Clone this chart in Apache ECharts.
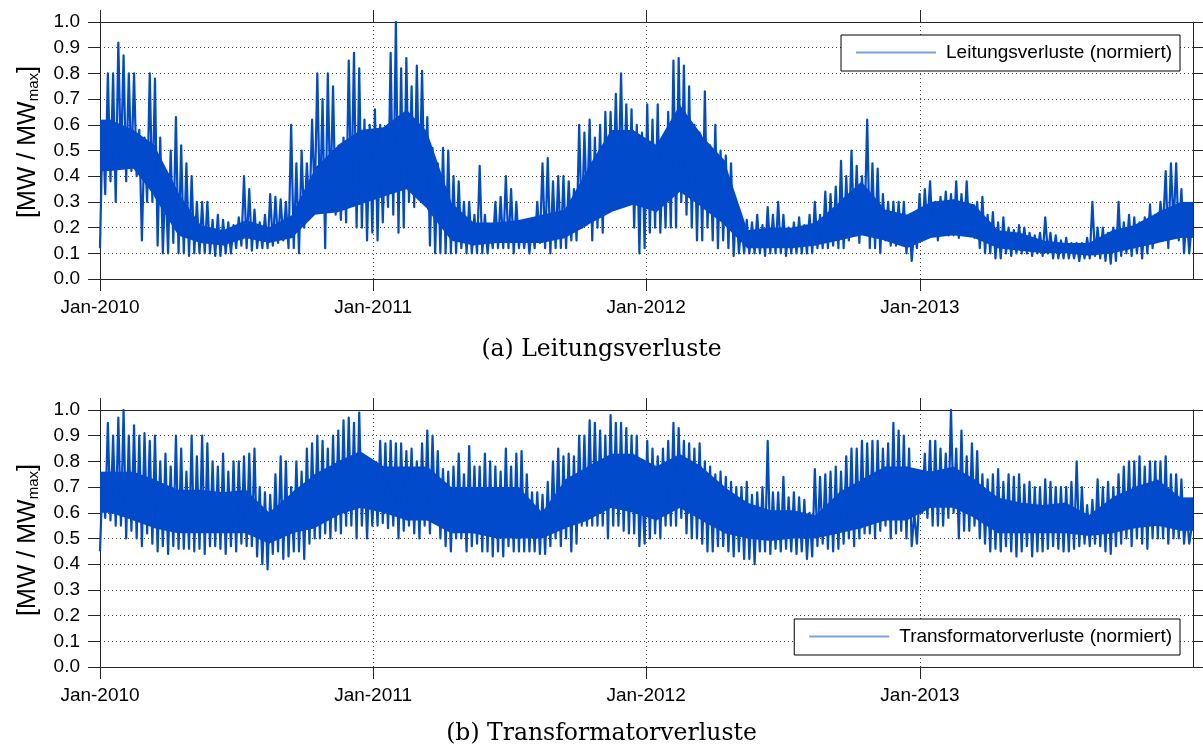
<!DOCTYPE html>
<html>
<head>
<meta charset="utf-8">
<script src="https://cdn.jsdelivr.net/npm/echarts@6/dist/echarts.min.js"></script>
<style>html,body{margin:0;padding:0;background:#fff}#chart{width:1203px;height:755px}</style>
</head>
<body>
<div id="chart"></div>
<script>
// ---- Tick labels ----
const xTickLabels = ['Jan-2010', 'Jan-2011', 'Jan-2012', 'Jan-2013'];
const seriesNames = ['Leitungsverluste (normiert)', 'Transformatorverluste (normiert)'];
const captions = ['(a) Leitungsverluste', '(b) Transformatorverluste'];

// ---- Weekly upper / lower extremes ----
// (a) Leitungsverluste
const leitHi2010 = [0.6,0.8,0.8,0.92,0.87,0.8,0.8,0.58,0.55,0.8,0.78,0.55,0.4,0.5,0.63,0.52,0.45,0.4,0.3,0.3,0.3,0.23,0.25,0.23,0.22,0.21,0.24,0.4,0.35,0.27,0.22,0.25,0.33,0.32,0.31,0.3,0.6,0.45,0.5,0.45,0.62,0.8,0.7,0.8,0.75,0.5,0.55,0.85,0.88,0.82,0.62,0.6];
const leitLo2010 = [0.12,0.33,0.38,0.3,0.45,0.38,0.42,0.4,0.15,0.3,0.3,0.13,0.1,0.1,0.14,0.1,0.1,0.09,0.1,0.1,0.1,0.1,0.09,0.09,0.1,0.1,0.12,0.13,0.12,0.11,0.12,0.12,0.12,0.13,0.14,0.15,0.12,0.12,0.1,0.2,0.25,0.3,0.27,0.12,0.3,0.25,0.23,0.22,0.3,0.2,0.2,0.15];
const leitHi2011 = [0.66,0.6,0.57,0.88,1.0,0.82,0.86,0.75,0.83,0.81,0.63,0.51,0.45,0.51,0.5,0.4,0.38,0.3,0.3,0.25,0.44,0.25,0.2,0.3,0.32,0.4,0.35,0.3,0.22,0.22,0.22,0.3,0.45,0.47,0.38,0.4,0.4,0.38,0.35,0.6,0.57,0.62,0.55,0.6,0.65,0.65,0.72,0.8,0.68,0.66,0.6,0.57];
const leitLo2011 = [0.18,0.15,0.22,0.28,0.25,0.18,0.2,0.3,0.28,0.33,0.3,0.13,0.1,0.1,0.1,0.1,0.1,0.12,0.1,0.1,0.1,0.1,0.1,0.12,0.12,0.12,0.12,0.1,0.12,0.12,0.1,0.12,0.14,0.12,0.1,0.12,0.12,0.12,0.15,0.15,0.2,0.25,0.15,0.2,0.18,0.3,0.3,0.35,0.3,0.3,0.2,0.1];
const leitHi2012 = [0.68,0.62,0.68,0.5,0.65,0.85,0.86,0.83,0.75,0.6,0.57,0.73,0.52,0.6,0.5,0.48,0.45,0.3,0.22,0.23,0.22,0.25,0.21,0.28,0.25,0.3,0.25,0.2,0.22,0.24,0.21,0.25,0.3,0.25,0.34,0.33,0.36,0.46,0.4,0.5,0.44,0.4,0.62,0.45,0.43,0.33,0.3,0.3,0.3,0.3,0.25,0.2];
const leitLo2012 = [0.12,0.18,0.2,0.18,0.2,0.2,0.2,0.3,0.25,0.2,0.15,0.15,0.2,0.15,0.12,0.15,0.12,0.09,0.1,0.1,0.1,0.1,0.1,0.09,0.1,0.1,0.1,0.09,0.1,0.1,0.1,0.1,0.1,0.12,0.12,0.12,0.13,0.12,0.12,0.15,0.18,0.14,0.2,0.12,0.12,0.1,0.15,0.13,0.13,0.14,0.1,0.07];
const leitHi2013 = [0.33,0.35,0.38,0.3,0.32,0.34,0.33,0.38,0.33,0.38,0.28,0.3,0.32,0.25,0.26,0.22,0.24,0.2,0.19,0.21,0.2,0.18,0.17,0.18,0.24,0.18,0.17,0.15,0.16,0.14,0.14,0.14,0.16,0.3,0.2,0.2,0.18,0.2,0.3,0.22,0.25,0.24,0.22,0.24,0.29,0.25,0.3,0.42,0.45,0.45,0.35,0.25,0.22];
const leitLo2013 = [0.12,0.15,0.2,0.18,0.15,0.18,0.17,0.17,0.16,0.18,0.17,0.16,0.12,0.1,0.1,0.08,0.08,0.1,0.09,0.1,0.1,0.1,0.09,0.1,0.09,0.1,0.08,0.08,0.08,0.08,0.08,0.07,0.08,0.08,0.09,0.08,0.07,0.06,0.07,0.09,0.1,0.09,0.1,0.08,0.1,0.12,0.15,0.2,0.12,0.2,0.15,0.1,0.1];
// (b) Transformatorverluste
const trafoHi2010 = [0.74,0.95,0.9,0.97,1.0,0.9,0.94,0.9,0.91,0.88,0.9,0.8,0.83,0.78,0.9,0.85,0.76,0.9,0.82,0.9,0.87,0.8,0.78,0.83,0.76,0.8,0.8,0.82,0.83,0.85,0.7,0.68,0.67,0.75,0.82,0.8,0.7,0.8,0.76,0.85,0.87,0.9,0.88,0.85,0.9,0.92,0.96,0.97,0.95,0.99,0.8,0.78];
const trafoLo2010 = [0.45,0.58,0.57,0.55,0.55,0.5,0.53,0.5,0.47,0.52,0.48,0.45,0.47,0.44,0.47,0.46,0.46,0.46,0.45,0.46,0.44,0.47,0.47,0.46,0.44,0.47,0.45,0.48,0.47,0.47,0.43,0.4,0.38,0.44,0.45,0.42,0.43,0.45,0.45,0.42,0.48,0.5,0.5,0.52,0.5,0.53,0.52,0.55,0.55,0.5,0.55,0.5];
const trafoHi2011 = [0.78,0.88,0.87,0.88,0.87,0.87,0.84,0.85,0.8,0.87,0.92,0.9,0.84,0.77,0.76,0.78,0.83,0.75,0.86,0.78,0.78,0.83,0.8,0.78,0.76,0.85,0.78,0.83,0.84,0.75,0.68,0.68,0.67,0.72,0.8,0.85,0.82,0.83,0.82,0.9,0.9,0.96,0.95,0.92,0.9,0.98,0.95,0.95,0.93,0.9,0.9,0.7];
const trafoLo2011 = [0.55,0.55,0.56,0.54,0.55,0.5,0.53,0.55,0.52,0.5,0.55,0.52,0.56,0.5,0.47,0.45,0.5,0.5,0.45,0.47,0.48,0.45,0.45,0.43,0.45,0.43,0.47,0.45,0.45,0.45,0.45,0.45,0.44,0.44,0.47,0.5,0.47,0.5,0.45,0.48,0.55,0.55,0.55,0.55,0.55,0.5,0.55,0.55,0.53,0.52,0.52,0.47];
const trafoHi2012 = [0.88,0.85,0.82,0.85,0.88,0.95,0.93,0.88,0.87,0.85,0.87,0.8,0.78,0.75,0.76,0.74,0.72,0.7,0.7,0.72,0.67,0.68,0.7,0.88,0.68,0.68,0.74,0.66,0.68,0.66,0.65,0.6,0.77,0.74,0.75,0.76,0.78,0.76,0.82,0.85,0.85,0.88,0.87,0.88,0.88,0.85,0.87,0.95,0.92,0.9,0.85,0.6];
const trafoLo2012 = [0.48,0.5,0.52,0.5,0.55,0.55,0.55,0.58,0.52,0.5,0.5,0.48,0.45,0.45,0.47,0.47,0.45,0.43,0.45,0.42,0.42,0.4,0.45,0.45,0.44,0.46,0.45,0.46,0.45,0.44,0.45,0.42,0.43,0.47,0.48,0.46,0.45,0.46,0.48,0.5,0.47,0.5,0.52,0.52,0.5,0.53,0.55,0.5,0.52,0.53,0.5,0.47];
const trafoHi2013 = [0.68,0.83,0.88,0.88,0.85,0.83,1.0,0.85,0.92,0.82,0.87,0.84,0.75,0.73,0.75,0.77,0.72,0.75,0.74,0.75,0.71,0.72,0.7,0.7,0.73,0.72,0.7,0.7,0.7,0.72,0.8,0.7,0.63,0.65,0.73,0.7,0.72,0.7,0.75,0.78,0.8,0.8,0.82,0.78,0.8,0.8,0.8,0.82,0.75,0.75,0.73,0.6,0.55];
const trafoLo2013 = [0.48,0.6,0.58,0.55,0.55,0.55,0.58,0.6,0.5,0.53,0.53,0.55,0.5,0.48,0.45,0.46,0.45,0.47,0.45,0.43,0.45,0.47,0.43,0.45,0.45,0.46,0.47,0.46,0.45,0.45,0.46,0.47,0.48,0.47,0.48,0.47,0.45,0.44,0.47,0.48,0.5,0.47,0.5,0.48,0.46,0.5,0.5,0.5,0.48,0.5,0.5,0.48,0.48];

// ---- Monthly dense core band (bottom / top) ----
const leitCoreLo2010 = [0.42,0.43,0.32,0.17,0.14,0.13,0.16,0.14,0.16,0.25,0.26,0.29];
const leitCoreHi2010 = [0.62,0.58,0.52,0.34,0.21,0.19,0.23,0.2,0.25,0.43,0.52,0.58];
const leitCoreLo2011 = [0.32,0.35,0.27,0.15,0.13,0.14,0.14,0.14,0.16,0.21,0.26,0.29];
const leitCoreHi2011 = [0.59,0.66,0.57,0.3,0.22,0.22,0.23,0.25,0.27,0.43,0.58,0.58];
const leitCoreLo2012 = [0.26,0.34,0.28,0.21,0.12,0.12,0.12,0.13,0.15,0.17,0.15,0.12];
const leitCoreHi2012 = [0.52,0.68,0.56,0.46,0.19,0.2,0.2,0.22,0.3,0.38,0.27,0.25];
const leitCoreLo2013 = [0.16,0.17,0.16,0.12,0.11,0.1,0.1,0.09,0.1,0.12,0.14,0.16];
const leitCoreHi2013 = [0.3,0.31,0.29,0.19,0.18,0.15,0.14,0.14,0.19,0.21,0.26,0.3];
const trafoCoreLo2010 = [0.6,0.57,0.54,0.52,0.52,0.52,0.52,0.48,0.52,0.54,0.59,0.62];
const trafoCoreHi2010 = [0.76,0.76,0.73,0.69,0.69,0.68,0.69,0.6,0.68,0.75,0.8,0.84];
const trafoCoreLo2011 = [0.6,0.57,0.57,0.52,0.52,0.5,0.5,0.5,0.54,0.57,0.62,0.6];
const trafoCoreHi2011 = [0.78,0.78,0.78,0.7,0.7,0.7,0.7,0.6,0.73,0.78,0.83,0.83];
const trafoCoreLo2012 = [0.57,0.62,0.57,0.52,0.5,0.49,0.5,0.5,0.52,0.54,0.57,0.57];
const trafoCoreHi2012 = [0.78,0.83,0.78,0.7,0.64,0.61,0.61,0.59,0.68,0.73,0.78,0.78];
const trafoCoreLo2013 = [0.62,0.62,0.58,0.52,0.52,0.52,0.52,0.51,0.52,0.54,0.55,0.53];
const trafoCoreHi2013 = [0.76,0.78,0.73,0.66,0.64,0.63,0.64,0.59,0.66,0.7,0.73,0.66];

// ---- Build series through the axes ----
const DAY = 86400000;
const START = Date.UTC(2010, 0, 1);
const END = Date.UTC(2014, 0, 1);
const yearTicks = [Date.UTC(2010,0,1), Date.UTC(2011,0,1), Date.UTC(2012,0,1), Date.UTC(2013,0,1)];

function weekly(hiYears, loYears) {
  const hi = [].concat(...hiYears), lo = [].concat(...loYears);
  const pts = [];
  for (let i = 0; i < hi.length; i++) {
    const t = START + i * 7 * DAY;
    pts.push([t, lo[i]]);
    pts.push([t + 3.5 * DAY, hi[i]]);
  }
  return pts;
}
// core band: one item per pair of neighbouring month centres
function coreBand(cLoYears, cHiYears) {
  const lo = [].concat(...cLoYears), hi = [].concat(...cHiYears);
  const pts = lo.map((v, m) => [Date.UTC(2010 + Math.floor(m / 12), m % 12, 15), v, hi[m]]);
  pts.unshift([START, lo[0], hi[0]]);
  pts.push([END, lo[lo.length - 1], hi[hi.length - 1]]);
  const segs = [];
  for (let i = 0; i < pts.length - 1; i++) {
    segs.push([pts[i][0], pts[i][1], pts[i][2], pts[i + 1][0], pts[i + 1][1], pts[i + 1][2]]);
  }
  return segs;
}
const leitData = weekly([leitHi2010, leitHi2011, leitHi2012, leitHi2013], [leitLo2010, leitLo2011, leitLo2012, leitLo2013]);
const trafoData = weekly([trafoHi2010, trafoHi2011, trafoHi2012, trafoHi2013], [trafoLo2010, trafoLo2011, trafoLo2012, trafoLo2013]);
const leitCore = coreBand([leitCoreLo2010, leitCoreLo2011, leitCoreLo2012, leitCoreLo2013], [leitCoreHi2010, leitCoreHi2011, leitCoreHi2012, leitCoreHi2013]);
const trafoCore = coreBand([trafoCoreLo2010, trafoCoreLo2011, trafoCoreLo2012, trafoCoreLo2013], [trafoCoreHi2010, trafoCoreHi2011, trafoCoreHi2012, trafoCoreHi2013]);

// ---- Styling ----
const FONT = 'Liberation Sans';
const AXIS = '#262626';
const GRIDC = '#444';
const LINEC = '#004acb';
const LEGC = '#7da2e2';

function fmtX(v) {
  const i = yearTicks.indexOf(+v);
  return i >= 0 ? xTickLabels[i] : '';
}

function xAxes(g) {
  const base = {
    gridIndex: g, type: 'value', min: START, max: END, scale: true,
    axisLine: { show: true, onZero: false, lineStyle: { color: AXIS, width: 1 } },
    axisTick: { show: true, inside: false, length: 12, customValues: yearTicks, lineStyle: { color: AXIS } },
    minorTick: { show: false }, minorSplitLine: { show: false }
  };
  return [
    Object.assign({}, base, {
      position: 'bottom',
      axisLabel: { show: true, customValues: yearTicks, formatter: fmtX, fontFamily: FONT, fontSize: 19, color: '#000', margin: 19, hideOverlap: false },
      splitLine: { show: true, lineStyle: { color: GRIDC, type: [1, 3], width: 1 } }
    }),
    Object.assign({}, base, {
      position: 'top',
      axisLabel: { show: false },
      splitLine: { show: false }
    })
  ];
}

function yAxes(g, namePad) {
  const base = {
    gridIndex: g, type: 'value', min: 0, max: 1, interval: 0.1,
    axisLine: { show: true, onZero: false, lineStyle: { color: AXIS, width: 1 } },
    axisTick: { show: true, inside: false, length: 12, lineStyle: { color: AXIS } }
  };
  return [
    Object.assign({}, base, {
      position: 'left',
      axisLabel: { show: true, formatter: v => v.toFixed(1), fontFamily: FONT, fontSize: 19, color: '#000', margin: 20 },
      splitLine: { show: true, lineStyle: { color: GRIDC, type: [1, 3], width: 1 } },
      name: '[MW / MW{sub|max}]',
      nameLocation: 'middle', nameRotate: 90, nameGap: 59,
      nameTextStyle: {
        fontFamily: FONT, fontSize: 25, color: '#000', lineHeight: 25, padding: namePad,
        rich: { sub: { fontFamily: FONT, fontSize: 15, lineHeight: 15, color: '#000', verticalAlign: 'bottom' } }
      }
    }),
    Object.assign({}, base, {
      position: 'right',
      axisLabel: { show: false },
      splitLine: { show: false }
    })
  ];
}

const legendBase = {
  orient: 'horizontal', right: 23, icon: 'rect', itemWidth: 80, itemHeight: 2,
  itemStyle: { color: LEGC },
  textStyle: { fontFamily: FONT, fontSize: 19, color: '#000', padding: [0, 0, 0, 5] },
  borderColor: '#000', borderWidth: 1, backgroundColor: '#fff',
  padding: [8, 8, 9, 15], selectedMode: false
};

const lineStyle = { color: LINEC, width: 2.2, join: 'round' };

function coreRender(params, api) {
  const a = api.coord([api.value(0), api.value(2)]);
  const b = api.coord([api.value(3), api.value(5)]);
  const c = api.coord([api.value(3), api.value(4)]);
  const d = api.coord([api.value(0), api.value(1)]);
  return {
    type: 'polygon',
    shape: { points: [[a[0] - 0.4, a[1]], [b[0] + 0.4, b[1]], [c[0] + 0.4, c[1]], [d[0] - 0.4, d[1]]] },
    style: { fill: LINEC }
  };
}

const option = {
  animation: false,
  backgroundColor: '#fff',
  textStyle: { fontFamily: FONT },
  title: [
    { text: captions[0], left: 'center', top: 338, padding: 0,
      textStyle: { fontFamily: 'DejaVu Serif', fontSize: 23.5, fontWeight: 'normal', color: '#000' } },
    { text: captions[1], left: 'center', top: 722, padding: 0,
      textStyle: { fontFamily: 'DejaVu Serif', fontSize: 23.5, fontWeight: 'normal', color: '#000' } }
  ],
  legend: [
    Object.assign({}, legendBase, { top: 35, data: [seriesNames[0]] }),
    Object.assign({}, legendBase, { top: 619, data: [seriesNames[1]] })
  ],
  grid: [
    { left: 100, top: 22, width: 1093, height: 257, show: false },
    { left: 100, top: 410, width: 1093, height: 257, show: false }
  ],
  xAxis: [...xAxes(0), ...xAxes(1)],
  yAxis: [...yAxes(0, [0, 0, 0, 17]), ...yAxes(1, [0, 3, 0, 0])],
  series: [
    { name: 'core-a', type: 'custom', xAxisIndex: 0, yAxisIndex: 0, data: leitCore, renderItem: coreRender,
      encode: { x: [0, 3], y: [1, 2, 4, 5] }, clip: true, silent: true },
    { name: 'core-b', type: 'custom', xAxisIndex: 2, yAxisIndex: 2, data: trafoCore, renderItem: coreRender,
      encode: { x: [0, 3], y: [1, 2, 4, 5] }, clip: true, silent: true },
    { name: seriesNames[0], type: 'line', xAxisIndex: 0, yAxisIndex: 0, data: leitData,
      showSymbol: false, symbol: 'none', lineStyle: lineStyle, itemStyle: { color: LINEC } },
    { name: seriesNames[1], type: 'line', xAxisIndex: 2, yAxisIndex: 2, data: trafoData,
      showSymbol: false, symbol: 'none', lineStyle: lineStyle, itemStyle: { color: LINEC } }
  ]
};

const chart = echarts.init(document.getElementById('chart'), null, { renderer: 'canvas' });
chart.setOption(option);
</script>
</body>
</html>
